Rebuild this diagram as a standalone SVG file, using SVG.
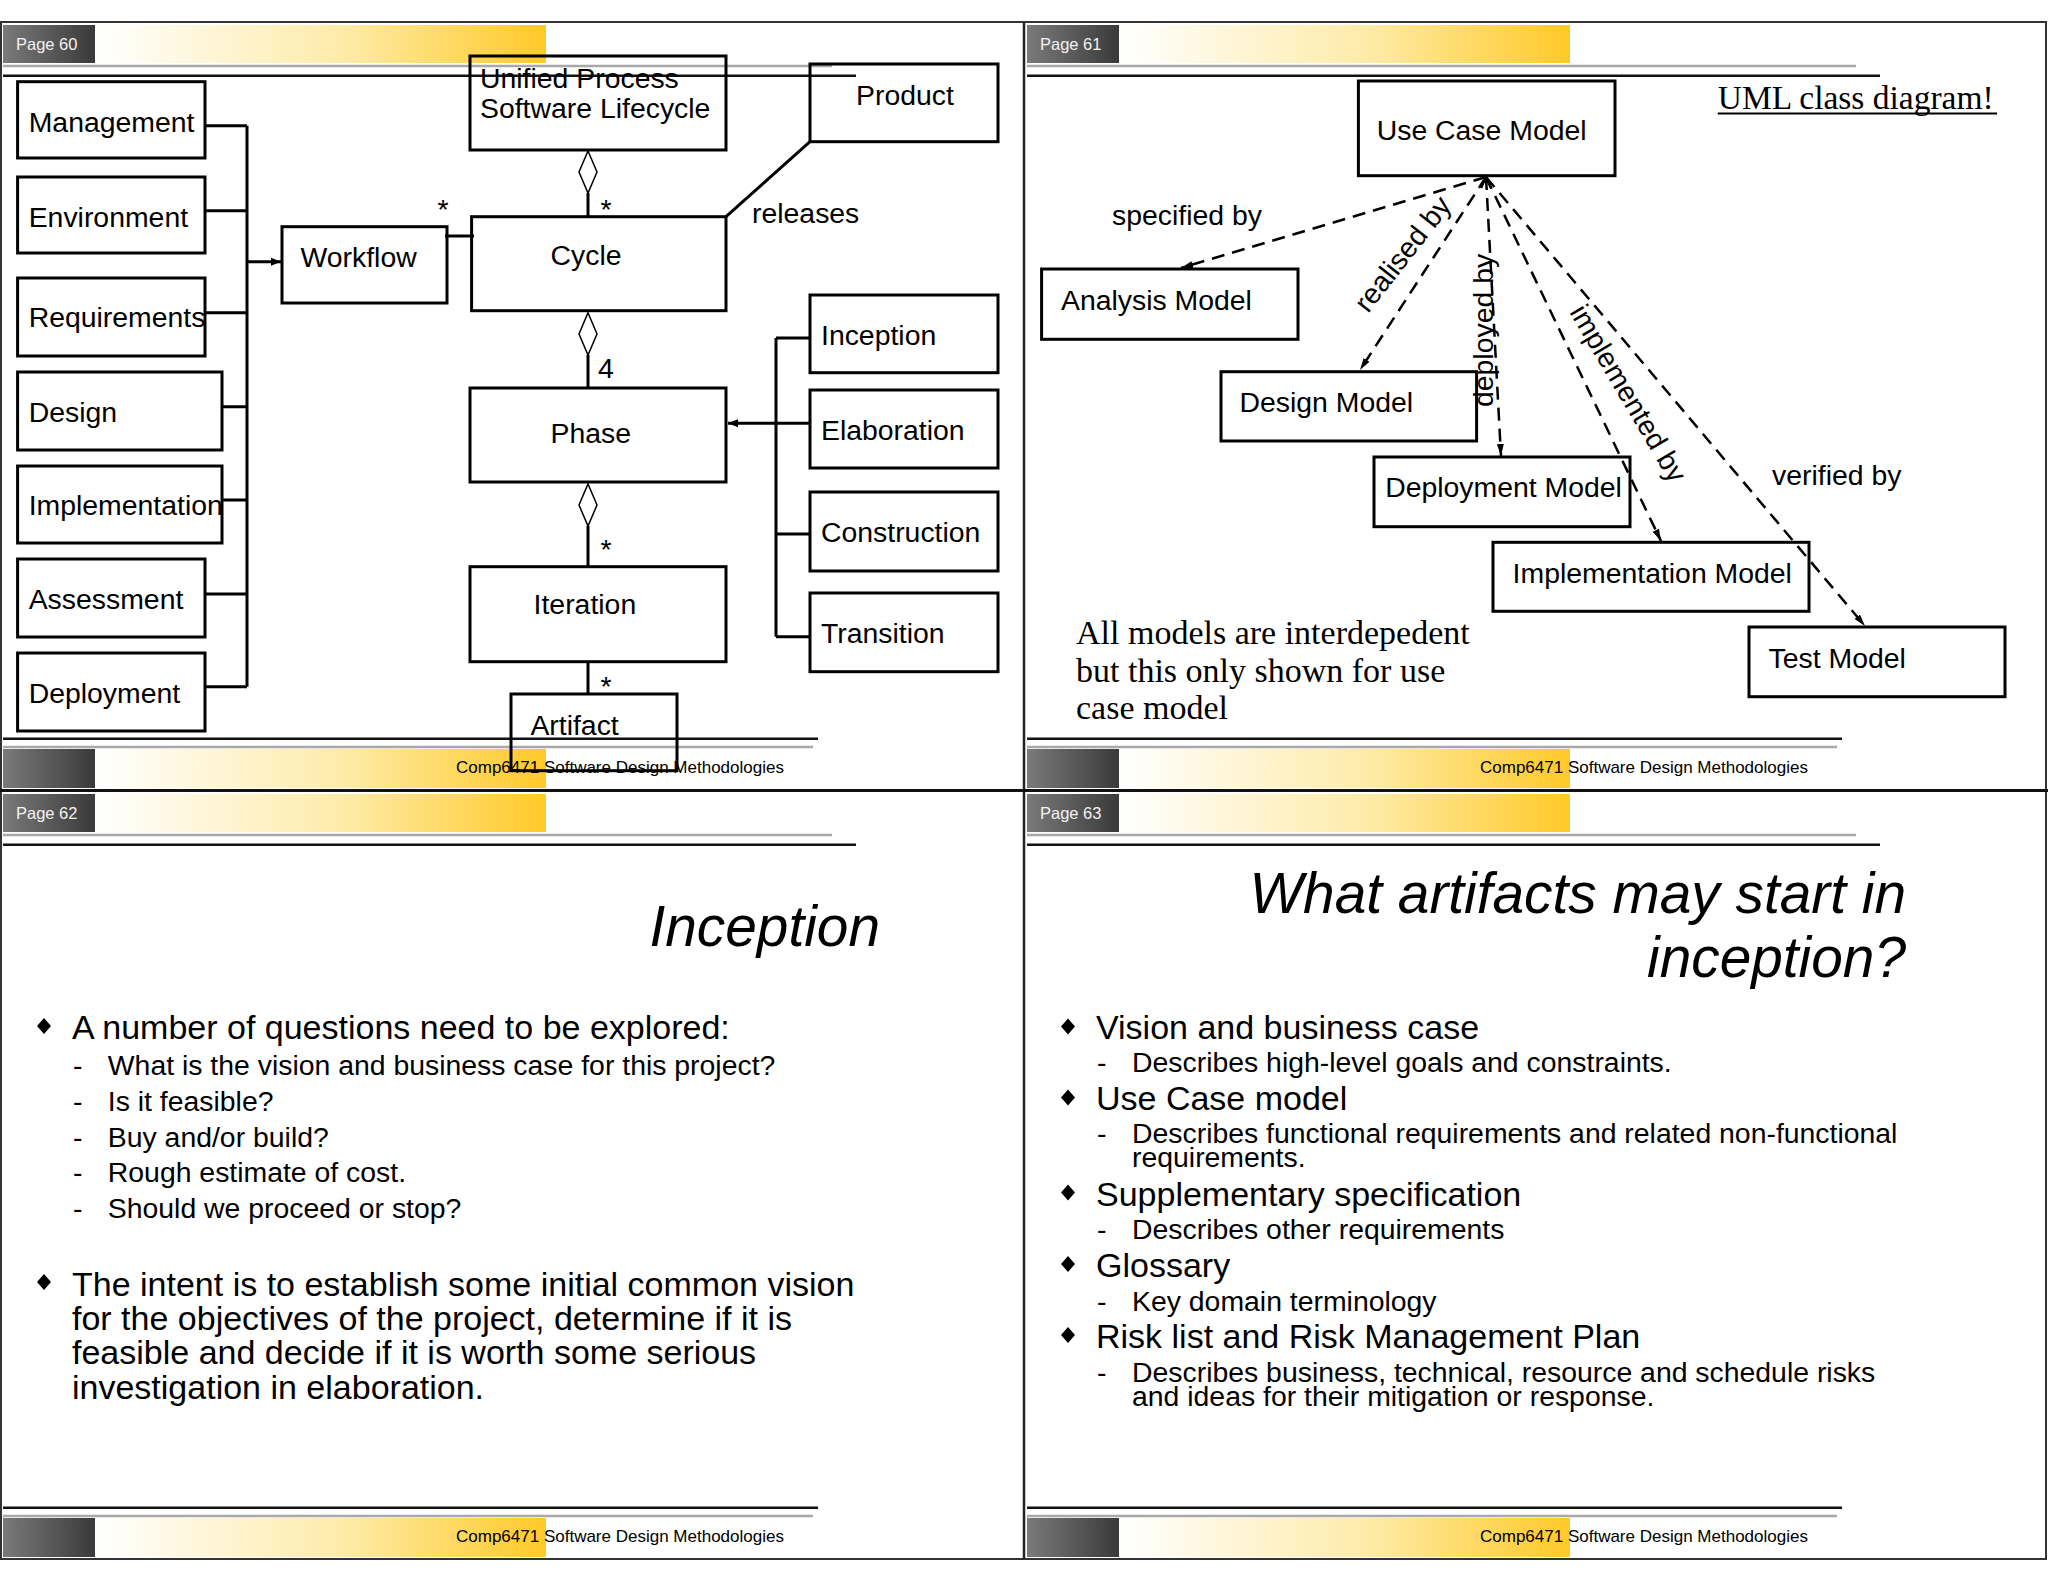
<svg xmlns="http://www.w3.org/2000/svg" width="2048" height="1582" viewBox="0 0 2048 1582">
<defs>
<linearGradient id="gDark" x1="0" y1="0" x2="1" y2="0"><stop offset="0" stop-color="#7a7a7a"/><stop offset="1" stop-color="#3a3a3a"/></linearGradient>
<linearGradient id="gYel" x1="0" y1="0" x2="1" y2="0"><stop offset="0" stop-color="#ffffff"/><stop offset="0.55" stop-color="#feeba8"/><stop offset="1" stop-color="#ffc928"/></linearGradient>
<marker id="tri" viewBox="0 0 10 10" refX="10" refY="5" markerWidth="10" markerHeight="10" markerUnits="userSpaceOnUse" orient="auto"><path d="M0,1 L10,5 L0,9 z" fill="#000"/></marker>
<marker id="stick" viewBox="0 0 12 10" refX="12" refY="5" markerWidth="12" markerHeight="10" markerUnits="userSpaceOnUse" orient="auto"><path d="M0,1.5 L12,5 L0,8.5 z" fill="#000"/></marker>
<style>
.t{font-family:"Liberation Sans",Arial,sans-serif;font-size:28.4px;fill:#000}
.b{font-family:"Liberation Sans",Arial,sans-serif;font-size:34px;fill:#000}
.ti{font-family:"Liberation Sans",Arial,sans-serif;font-size:56.8px;font-style:italic;fill:#000}
.s{font-family:"Liberation Serif","Times New Roman",serif;fill:#000}
.pg{font-family:"Liberation Sans",Arial,sans-serif;font-size:16.5px;fill:#f2f2f2}
.ft{font-family:"Liberation Sans",Arial,sans-serif;font-size:17px;fill:#000}
.box{fill:none;stroke:#000;stroke-width:3}
.ln{fill:none;stroke:#000;stroke-width:3}
.dash{fill:none;stroke:#000;stroke-width:2.5;stroke-dasharray:13 8}
.dia{fill:#fff;stroke:#000;stroke-width:1.5}
.gl{stroke:#a8a8a8;stroke-width:2.5}
.bl{stroke:#111;stroke-width:2.5}
.frame{fill:none;stroke:#333;stroke-width:2}
</style>
</defs>
<rect x="0" y="0" width="2048" height="1582" fill="#fff"/>

<!-- slide chrome -->
<g id="chrome">
<rect class="frame" x="1" y="22" width="2045" height="1537"/>
<line x1="1024" y1="22" x2="1024" y2="1559" stroke="#222" stroke-width="2.5"/>
<line x1="0" y1="790.5" x2="2048" y2="790.5" stroke="#111" stroke-width="3"/>
<!-- headers -->
<rect x="3" y="25" width="92" height="38" fill="url(#gDark)"/><rect x="95" y="25" width="451" height="38" fill="url(#gYel)"/>
<text class="pg" x="16" y="50">Page 60</text>
<line class="gl" x1="3" y1="66" x2="832" y2="66"/><line class="bl" x1="3" y1="75.7" x2="856" y2="75.7"/>
<rect x="1027" y="25" width="92" height="38" fill="url(#gDark)"/><rect x="1119" y="25" width="451" height="38" fill="url(#gYel)"/>
<text class="pg" x="1040" y="50">Page 61</text>
<line class="gl" x1="1027" y1="66" x2="1856" y2="66"/><line class="bl" x1="1027" y1="75.7" x2="1880" y2="75.7"/>
<rect x="3" y="794" width="92" height="38" fill="url(#gDark)"/><rect x="95" y="794" width="451" height="38" fill="url(#gYel)"/>
<text class="pg" x="16" y="819">Page 62</text>
<line class="gl" x1="3" y1="835" x2="832" y2="835"/><line class="bl" x1="3" y1="844.7" x2="856" y2="844.7"/>
<rect x="1027" y="794" width="92" height="38" fill="url(#gDark)"/><rect x="1119" y="794" width="451" height="38" fill="url(#gYel)"/>
<text class="pg" x="1040" y="819">Page 63</text>
<line class="gl" x1="1027" y1="835" x2="1856" y2="835"/><line class="bl" x1="1027" y1="844.7" x2="1880" y2="844.7"/>
<!-- footers -->
<line class="bl" x1="3" y1="738.7" x2="818" y2="738.7"/><line class="gl" x1="3" y1="747" x2="813" y2="747"/>
<rect x="3" y="749" width="92" height="39" fill="url(#gDark)"/><rect x="95" y="749" width="451" height="39" fill="url(#gYel)"/>
<text class="ft" x="456" y="773">Comp6471 Software Design Methodologies</text>
<line class="bl" x1="1027" y1="738.7" x2="1842" y2="738.7"/><line class="gl" x1="1027" y1="747" x2="1837" y2="747"/>
<rect x="1027" y="749" width="92" height="39" fill="url(#gDark)"/><rect x="1119" y="749" width="451" height="39" fill="url(#gYel)"/>
<text class="ft" x="1480" y="773">Comp6471 Software Design Methodologies</text>
<line class="bl" x1="3" y1="1507.7" x2="818" y2="1507.7"/><line class="gl" x1="3" y1="1516" x2="813" y2="1516"/>
<rect x="3" y="1518" width="92" height="39" fill="url(#gDark)"/><rect x="95" y="1518" width="451" height="39" fill="url(#gYel)"/>
<text class="ft" x="456" y="1542">Comp6471 Software Design Methodologies</text>
<line class="bl" x1="1027" y1="1507.7" x2="1842" y2="1507.7"/><line class="gl" x1="1027" y1="1516" x2="1837" y2="1516"/>
<rect x="1027" y="1518" width="92" height="39" fill="url(#gDark)"/><rect x="1119" y="1518" width="451" height="39" fill="url(#gYel)"/>
<text class="ft" x="1480" y="1542">Comp6471 Software Design Methodologies</text>
</g>

<!-- slide 60 connectors -->
<g id="connectors-60">
<path class="ln" d="M247,125.7 V686.7 M205,125.7 H247 M205,210.7 H247 M205,312.7 H247 M222,406.7 H247 M222,500 H247 M205,594 H247 M205,686.7 H247"/>
<line class="ln" x1="247" y1="261.7" x2="281" y2="261.7" marker-end="url(#tri)"/>
<line class="ln" x1="445" y1="236" x2="474" y2="236"/>
<polygon class="dia" points="588,151 597,172 588,193 579,172"/>
<line class="ln" x1="588" y1="193" x2="588" y2="216.7"/>
<polygon class="dia" points="588,312.7 597,334 588,355 579,334"/>
<line class="ln" x1="588" y1="355" x2="588" y2="388"/>
<polygon class="dia" points="588,484 597,505 588,526 579,505"/>
<line class="ln" x1="588" y1="526" x2="588" y2="566.7"/>
<line class="ln" x1="588" y1="661.7" x2="588" y2="694"/>
<line class="ln" x1="810" y1="141.7" x2="726" y2="216.7"/>
<path class="ln" d="M776,338 V636.7 M776,338 H810 M776,534 H810 M776,636.7 H810"/>
<line class="ln" x1="810" y1="423.3" x2="728" y2="423.3" marker-end="url(#tri)"/>
<text class="t" x="443" y="219" text-anchor="middle">*</text>
<text class="t" x="606" y="219" text-anchor="middle">*</text>
<text class="t" x="606" y="378" text-anchor="middle">4</text>
<text class="t" x="606" y="559" text-anchor="middle">*</text>
<text class="t" x="606" y="696" text-anchor="middle">*</text>
<text class="t" x="752" y="223">releases</text>
</g>

<g id="n-management"><rect class="box" x="17.6" y="81.7" width="187.4" height="76.3"/><text class="t" x="28.7" y="131.7">Management</text></g>
<g id="n-environment"><rect class="box" x="17.6" y="177" width="187.4" height="76"/><text class="t" x="28.7" y="226.7">Environment</text></g>
<g id="n-requirements"><rect class="box" x="17.6" y="278" width="187.4" height="78"/><text class="t" x="28.7" y="326.7">Requirements</text></g>
<g id="n-design"><rect class="box" x="17.6" y="372" width="204.4" height="78"/><text class="t" x="28.7" y="421.7">Design</text></g>
<g id="n-implementation"><rect class="box" x="17.6" y="466" width="204.4" height="77"/><text class="t" x="28.7" y="515">Implementation</text></g>
<g id="n-assessment"><rect class="box" x="17.6" y="559" width="187.4" height="78"/><text class="t" x="28.7" y="609.3">Assessment</text></g>
<g id="n-deployment"><rect class="box" x="17.6" y="653" width="187.4" height="78"/><text class="t" x="28.7" y="703.3">Deployment</text></g>
<g id="n-workflow"><rect class="box" x="282" y="226.7" width="165" height="76.3"/><text class="t" x="300.5" y="267">Workflow</text></g>
<g id="n-unified"><rect class="box" x="470" y="56" width="256" height="94"/><text class="t" x="480" y="88">Unified Process</text><text class="t" x="480" y="118">Software Lifecycle</text></g>
<g id="n-cycle"><rect class="box" x="471.6" y="216.7" width="254.4" height="94"/><text class="t" x="550.6" y="265">Cycle</text></g>
<g id="n-product"><rect class="box" x="810" y="64" width="188" height="77.7"/><text class="t" x="856" y="105">Product</text></g>
<g id="n-phase"><rect class="box" x="470" y="388" width="256" height="94"/><text class="t" x="550.6" y="443.3">Phase</text></g>
<g id="n-iteration"><rect class="box" x="470" y="566.7" width="256" height="95"/><text class="t" x="533.6" y="614">Iteration</text></g>
<g id="n-artifact"><rect class="box" x="511" y="694" width="166" height="76.7"/><text class="t" x="530.4" y="735">Artifact</text></g>
<g id="n-inception"><rect class="box" x="810" y="295" width="188" height="77.7"/><text class="t" x="821" y="345">Inception</text></g>
<g id="n-elaboration"><rect class="box" x="810" y="390" width="188" height="78"/><text class="t" x="821" y="440">Elaboration</text></g>
<g id="n-construction"><rect class="box" x="810" y="492" width="188" height="79"/><text class="t" x="821" y="541.7">Construction</text></g>
<g id="n-transition"><rect class="box" x="810" y="593" width="188" height="78.7"/><text class="t" x="821" y="643.3">Transition</text></g>

<!-- slide 61 -->
<g id="connectors-61">
<line class="dash" x1="1486" y1="177" x2="1181" y2="268" marker-end="url(#stick)"/>
<line class="dash" x1="1486" y1="177" x2="1360" y2="370" marker-end="url(#stick)"/>
<line class="dash" x1="1486" y1="177" x2="1501" y2="456" marker-end="url(#stick)"/>
<line class="dash" x1="1486" y1="177" x2="1661" y2="541" marker-end="url(#stick)"/>
<line class="dash" x1="1486" y1="177" x2="1865" y2="626" marker-end="url(#stick)"/>
<path d="M1481,188 L1486,177 L1491,188" fill="none" stroke="#000" stroke-width="2.5"/>
<text class="t" x="1112" y="225">specified by</text>
<text class="t" transform="translate(1368,314) rotate(-52)">realised by</text>
<text class="t" transform="translate(1493,407) rotate(-90)">deployed by</text>
<text class="t" transform="translate(1569,312) rotate(59.4)">implemented by</text>
<text class="t" x="1772" y="485">verified by</text>
</g>
<g id="n-usecase"><rect class="box" x="1358.4" y="81" width="256.6" height="94.7"/><text class="t" x="1376.7" y="140">Use Case Model</text></g>
<g id="n-analysis"><rect class="box" x="1041.6" y="269" width="256.4" height="70.3"/><text class="t" x="1061" y="310">Analysis Model</text></g>
<g id="n-designmodel"><rect class="box" x="1221" y="371.7" width="255.6" height="69.3"/><text class="t" x="1239.5" y="411.7">Design Model</text></g>
<g id="n-deploymentmodel"><rect class="box" x="1374" y="457" width="256" height="69.7"/><text class="t" x="1385.2" y="497.3">Deployment Model</text></g>
<g id="n-implementationmodel"><rect class="box" x="1493" y="542.3" width="316" height="69"/><text class="t" x="1512.6" y="582.7">Implementation Model</text></g>
<g id="n-testmodel"><rect class="box" x="1749" y="627" width="256" height="69.7"/><text class="t" x="1768.6" y="668.3">Test Model</text></g>
<g id="note-61">
<text class="s" x="1717.7" y="108.8" font-size="33.5">UML class diagram!</text>
<line x1="1717.7" y1="113.5" x2="1997" y2="113.5" stroke="#000" stroke-width="1.8"/>
<text class="s" font-size="34"><tspan x="1076" y="644">All models are interdepedent</tspan><tspan x="1076" y="681.5">but this only shown for use</tspan><tspan x="1076" y="719">case model</tspan></text>
</g>

<!-- slide 62 -->
<g id="slide-62">
<text class="ti" x="880" y="946" text-anchor="end" font-size="55">Inception</text>
<polygon points="44,1018 51,1026 44,1034 37,1026" fill="#000"/>
<text class="b" x="72" y="1039.3">A number of questions need to be explored:</text>
<text class="t"><tspan x="73" y="1075">-</tspan><tspan x="107.8" y="1075">What is the vision and business case for this project?</tspan>
<tspan x="73" y="1110.8">-</tspan><tspan x="107.8" y="1110.8">Is it feasible?</tspan>
<tspan x="73" y="1146.6">-</tspan><tspan x="107.8" y="1146.6">Buy and/or build?</tspan>
<tspan x="73" y="1182.4">-</tspan><tspan x="107.8" y="1182.4">Rough estimate of cost.</tspan>
<tspan x="73" y="1218.2">-</tspan><tspan x="107.8" y="1218.2">Should we proceed or stop?</tspan></text>
<polygon points="44,1274 51,1282 44,1290 37,1282" fill="#000"/>
<text class="b"><tspan x="72" y="1296">The intent is to establish some initial common vision</tspan><tspan x="72" y="1330.2">for the objectives of the project, determine if it is</tspan><tspan x="72" y="1364.4">feasible and decide if it is worth some serious</tspan><tspan x="72" y="1398.6">investigation in elaboration.</tspan></text>
</g>

<!-- slide 63 -->
<g id="slide-63">
<text class="ti" text-anchor="end"><tspan x="1906" y="913">What artifacts may start in</tspan><tspan x="1906" y="976.7">inception?</tspan></text>
<polygon points="1068,1018.5 1075,1026.5 1068,1034.5 1061,1026.5" fill="#000"/>
<text class="b" x="1096" y="1039.3">Vision and business case</text>
<text class="t"><tspan x="1097" y="1071.7">-</tspan><tspan x="1132" y="1071.7">Describes high-level goals and constraints.</tspan></text>
<polygon points="1068,1089.5 1075,1097.5 1068,1105.5 1061,1097.5" fill="#000"/>
<text class="b" x="1096" y="1110.3">Use Case model</text>
<text class="t"><tspan x="1097" y="1143.3">-</tspan><tspan x="1132" y="1143.3">Describes functional requirements and related non-functional</tspan><tspan x="1132" y="1167">requirements.</tspan></text>
<polygon points="1068,1184.5 1075,1192.5 1068,1200.5 1061,1192.5" fill="#000"/>
<text class="b" x="1096" y="1205.6">Supplementary specification</text>
<text class="t"><tspan x="1097" y="1239">-</tspan><tspan x="1132" y="1239">Describes other requirements</tspan></text>
<polygon points="1068,1256 1075,1264 1068,1272 1061,1264" fill="#000"/>
<text class="b" x="1096" y="1277">Glossary</text>
<text class="t"><tspan x="1097" y="1310.5">-</tspan><tspan x="1132" y="1310.5">Key domain terminology</tspan></text>
<polygon points="1068,1327 1075,1335 1068,1343 1061,1335" fill="#000"/>
<text class="b" x="1096" y="1348">Risk list and Risk Management Plan</text>
<text class="t"><tspan x="1097" y="1381.7">-</tspan><tspan x="1132" y="1381.7">Describes business, technical, resource and schedule risks</tspan><tspan x="1132" y="1406">and ideas for their mitigation or response.</tspan></text>
</g>
</svg>
